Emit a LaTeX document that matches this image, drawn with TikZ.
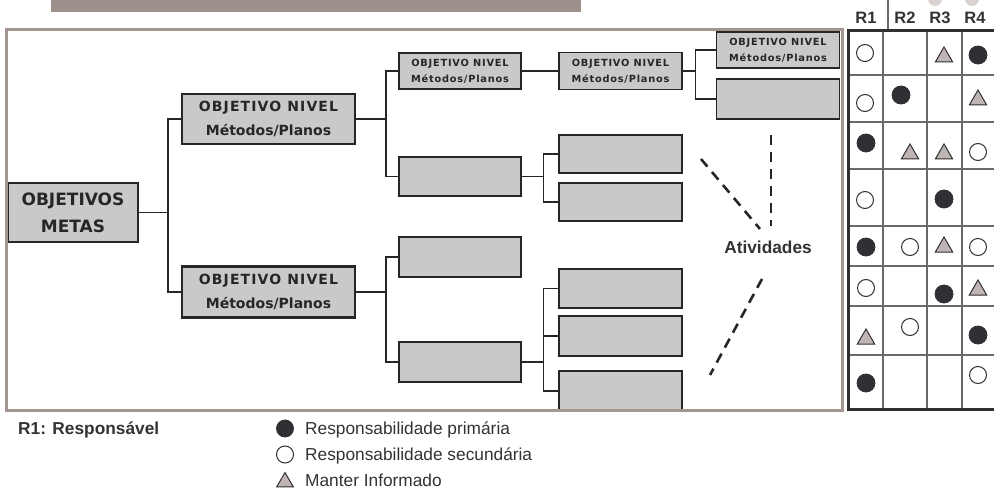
\documentclass[tikz,border=0pt]{standalone}
\usepackage{fontspec}
\setmainfont{Liberation Sans}
\newfontfamily\boxfont{DejaVu Sans}
\newfontfamily\boxfontsp{DejaVu Sans}[LetterSpace=8]
\usetikzlibrary{shapes.geometric}
\definecolor{framecol}{HTML}{A39691}
\definecolor{barcol}{HTML}{9E918C}
\definecolor{boxfill}{HTML}{C9C9C9}
\definecolor{boxline}{HTML}{262626}
\definecolor{darkcol}{HTML}{303034}
\definecolor{trifill}{HTML}{BFB6B3}
\definecolor{gridcol}{HTML}{6A6A6A}
\definecolor{tbordercol}{HTML}{303030}
\definecolor{headcirc}{HTML}{D9D2D0}
\definecolor{txt}{HTML}{333333}
\begin{document}
\begin{tikzpicture}[x=1pt,y=-1pt,
  rootbox/.style={draw=boxline, line width=2.5, fill=boxfill, minimum width=130, minimum height=59, inner sep=0, align=center, text=boxline, font=\boxfont\bfseries\fontsize{17}{27}\selectfont},
  lvlbox/.style={draw=boxline, line width=2.5, fill=boxfill, minimum width=173, minimum height=50, inner sep=0, align=center, text=boxline, font=\boxfont\bfseries\fontsize{14}{24}\selectfont},
  smallbox/.style={draw=boxline, line width=1.3, fill=boxfill, minimum width=122, minimum height=37, inner sep=0, align=center, text=boxline, font=\boxfontsp\bfseries\fontsize{9.8}{16}\selectfont},
  conn/.style={draw=boxline, line width=1.6},
  dashln/.style={draw=boxline, line width=2.6, dash pattern=on 10pt off 7pt},
  fcirc/.style={circle, fill=darkcol, draw=darkcol, line width=0.8, minimum size=18, inner sep=0},
  ocirc/.style={circle, fill=white, draw=darkcol, line width=1, minimum size=17, inner sep=0},
  tri/.style={regular polygon, regular polygon sides=3, fill=trifill, draw=darkcol, line width=1, minimum size=20, inner sep=0},
  gridln/.style={draw=gridcol, line width=1.2},
  tborder/.style={draw=tbordercol, line width=3},
  headtxt/.style={text=txt, font=\bfseries\fontsize{16.5}{19}\selectfont, inner sep=0},
  legtxt/.style={text=txt, font=\fontsize{17.3}{20}\selectfont, inner sep=0, anchor=west}
]
\useasboundingbox (0,0) rectangle (994,492);
\fill[white] (0,0) rectangle (994,492);

% top bar
\fill[barcol] (51,-5) rectangle (581,12);

% tree boxes
\node[rootbox] (root) at (73,212.5) {OBJETIVOS\\METAS};
\node[lvlbox] (n1) at (268.5,119) {{\boxfontsp\bfseries OBJETIVO NIVEL}\\Métodos/Planos};
\node[lvlbox, minimum height=51] (n2) at (268.5,292) {{\boxfontsp\bfseries OBJETIVO NIVEL}\\Métodos/Planos};

\node[smallbox, minimum height=36] (A) at (460,71) {OBJETIVO NIVEL\\Métodos/Planos};
\node[smallbox, minimum height=39] (B) at (460,176.5) {};
\node[smallbox, minimum width=123] (C) at (620.5,71) {OBJETIVO NIVEL\\Métodos/Planos};
\node[smallbox, minimum width=123, minimum height=36] (D) at (778,50) {OBJETIVO NIVEL\\Métodos/Planos};
\node[smallbox, minimum width=123, minimum height=40] (E) at (778,99) {};
\node[smallbox, minimum width=123, minimum height=38] (F) at (620.5,154) {};
\node[smallbox, minimum width=123, minimum height=38] (G) at (620.5,202) {};
\node[smallbox, minimum height=40] (H) at (460,257) {};
\node[smallbox, minimum height=40] (I) at (460,362) {};
\node[smallbox, minimum width=123, minimum height=39] (J) at (620.5,288.5) {};
\node[smallbox, minimum width=123, minimum height=40] (K) at (620.5,336) {};
\node[smallbox, minimum width=123, minimum height=40] (L) at (620.5,391) {};

% connectors
\draw[conn] (root.east) -- ++(29,0) coordinate (f0);
\draw[conn] (n1.west) -| (f0) |- (n2.west);
\draw[conn] (n1.east) -- ++(30,0) coordinate (f1);
\draw[conn] (A.west) -| (f1) |- (B.west);
\draw[conn] (n2.east) -- ++(30,0) coordinate (f2);
\draw[conn] (H.west) -| (f2) |- (I.west);
\draw[conn] (A.east) -- (C.west);
\draw[conn] (C.east) -- ++(13,0) coordinate (f3);
\draw[conn] (D.west) -| (f3) |- (E.west);
\draw[conn] (B.east) -- ++(22,0) coordinate (f4);
\draw[conn] (F.west) -| (f4) |- (G.west);
\draw[conn] (I.east) -- ++(22,0) coordinate (f5);
\draw[conn] (J.west) -| (f5) |- (L.west);
\draw[conn] (f5 |- K.west) -- (K.west);

% activity dashes
\coordinate (d1a) at (701,159);
\coordinate (d1b) at (760,229);
\coordinate (d2a) at (771,135);
\coordinate (d2b) at (771,226);
\coordinate (d3a) at (762,279);
\coordinate (d3b) at (710,375);
\draw[dashln] (d1a) -- (d1b);
\draw[dashln] (d2a) -- (d2b);
\draw[dashln] (d3a) -- (d3b);
\node[text=txt, font=\bfseries\fontsize{17.3}{20}\selectfont, inner sep=0] (ativ) at (768,247) {Atividades};

% frame
\draw[framecol, line width=3] (6.5,29.5) rectangle (842.5,410.5);

% table header
\fill[headcirc] (935,-1) circle (7);
\fill[headcirc] (972,-1) circle (7);
\draw[gridln] (888,-2) -- (888,29);
\node[headtxt] (h1) at (866,17.5) {R1};
\node[headtxt] (h2) at (905,17.5) {R2};
\node[headtxt] (h3) at (940,17.5) {R3};
\node[headtxt] (h4) at (975,17.5) {R4};

% table grid
\foreach \xx in {883,927,962} \draw[gridln] (\xx,30) -- (\xx,409.5);
\foreach \yy in {75,122,169,226,266,306,355} \draw[gridln] (848.5,\yy) -- (1000,\yy);
\draw[tborder] (1000,30.5) -- (848.5,30.5) -- (848.5,409.5) -- (1000,409.5);

% table symbols
% row 1
\node[ocirc] (s11) at (865,53) {};
\node[tri] (s13) at (944,57) {};
\node[fcirc] (s14) at (978,55) {};
% row 2
\node[ocirc] (s21) at (865,103) {};
\node[fcirc] (s22) at (901,95) {};
\node[tri] (s24) at (978,100) {};
% row 3
\node[fcirc] (s31) at (866,143) {};
\node[tri] (s32) at (910,154) {};
\node[tri] (s33) at (944,154) {};
\node[ocirc] (s34) at (978,152) {};
% row 4
\node[ocirc] (s41) at (865,200) {};
\node[fcirc] (s43) at (944,199) {};
% row 5
\node[fcirc] (s51) at (866,247) {};
\node[ocirc] (s52) at (910,247) {};
\node[tri] (s53) at (944,247) {};
\node[ocirc] (s54) at (978,247) {};
% row 6
\node[ocirc] (s61) at (866,288) {};
\node[fcirc] (s63) at (944,294) {};
\node[tri] (s64) at (978,290) {};
% row 7
\node[tri] (s71) at (866,339) {};
\node[ocirc] (s72) at (910,327) {};
\node[fcirc] (s74) at (978,335) {};
% row 8
\node[fcirc] (s81) at (866,383) {};
\node[ocirc] (s84) at (978,375) {};

% legend
\node[text=txt, font=\bfseries\fontsize{17.3}{20}\selectfont, inner sep=0, anchor=west] (resp) at (18,430) {R1: Responsável};
\node[fcirc, minimum size=17] (lg1) at (285,428.5) {};
\node[ocirc, minimum size=17] (lg2) at (285,454.5) {};
\node[tri, minimum size=19] (lg3) at (285,482) {};
\node[legtxt] (lt1) at (305,430) {Responsabilidade primária};
\node[legtxt] (lt2) at (305,455.5) {Responsabilidade secundária};
\node[legtxt] (lt3) at (305,480.5) {Manter Informado};
\end{tikzpicture}
\end{document}
